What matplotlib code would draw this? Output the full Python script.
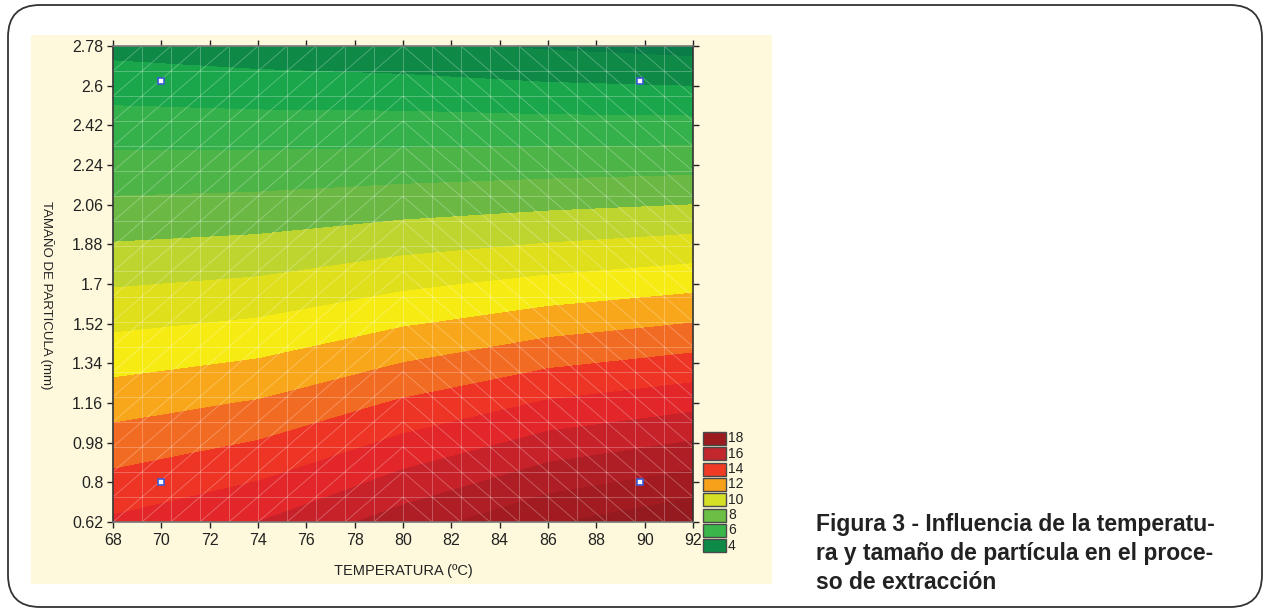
import numpy as np
import matplotlib
matplotlib.use('Agg')
from matplotlib import pyplot as plt
from matplotlib.patches import Rectangle, FancyBboxPatch
from matplotlib.transforms import IdentityTransform
from matplotlib.collections import LineCollection

# response surface (rows = particle size, cols = temperature)
temperatures = [68, 74, 80, 86, 92]
sizes = [0.62, 1.16, 1.70, 2.24, 2.78]
response = [
    [14.15, 15.00, 16.48, 17.90, 18.84],
    [11.56, 12.08, 13.13, 14.10, 14.68],
    [8.91, 9.17, 9.79, 10.28, 10.69],
    [6.32, 6.36, 6.46, 6.56, 6.65],
    [3.67, 3.42, 3.23, 2.87, 2.64],
]

levels = list(range(2, 20))
band_colors = ['#0a7c48', '#0e8a46', '#1aa74b', '#35b14b', '#4db447', '#6bb944',
               '#bed530', '#dfe01b', '#f6ec14', '#f9a71a', '#f26b22', '#ee3424',
               '#e2262a', '#c7212a', '#b01e25', '#a11b21', '#941a1f']

legend_values = [18, 16, 14, 12, 10, 8, 6, 4]
legend_colors = ['#9b1b1f', '#c1272d', '#ef3b24', '#f7a11a', '#d4df26', '#6abf44',
                 '#3ab54a', '#0d8a45']

design_temp = [70, 70, 89.8, 89.8]
design_size = [0.80, 2.62, 0.80, 2.62]

x_ticks = list(range(68, 93, 2))
y_ticks = [0.62, 0.80, 0.98, 1.16, 1.34, 1.52, 1.70, 1.88, 2.06, 2.24, 2.42, 2.60, 2.78]

caption = ["Figura 3 - Influencia de la temperatu-",
           "ra y tamaño de partícula en el proce-",
           "so de extracción"]

W, H = 1268, 613
plt.rcParams['font.family'] = ['Liberation Sans', 'DejaVu Sans']


def px(x, y):
    # pixel position measured from the top-left corner -> display coords
    return x, H - y


fig = plt.figure(figsize=(W / 100, H / 100), dpi=100)

# outer rounded frame and cream panel
frame = FancyBboxPatch(px(8, 607), 1254, 602, boxstyle="round,pad=0,rounding_size=32",
                       transform=IdentityTransform(), fill=False, ec='#333333', lw=1.3)
fig.add_artist(frame)
panel = Rectangle(px(31, 584), 741, 549, transform=IdentityTransform(),
                  fc='#fef9dc', ec='none', zorder=0)
fig.add_artist(panel)

ax = fig.add_axes([113 / W, (H - 522) / H, 580 / W, 476 / H])
ax.set_zorder(2)
ax.contourf(temperatures, sizes, response, levels=levels, colors=band_colors,
            antialiased=False)

# light wireframe mesh
mx = np.linspace(68, 92, 21)
my = np.linspace(0.62, 2.78, 20)
segs = []
for x in mx:
    segs.append([(x, my[0]), (x, my[-1])])
for y in my:
    segs.append([(mx[0], y), (mx[-1], y)])
for i in range(len(mx) - 1):
    for j in range(len(my) - 1):
        if (mx[i] + mx[i + 1]) / 2 < 80:
            segs.append([(mx[i], my[j]), (mx[i + 1], my[j + 1])])
        else:
            segs.append([(mx[i], my[j + 1]), (mx[i + 1], my[j])])
ax.add_collection(LineCollection(segs, colors='white', linewidths=0.6, alpha=0.3))

ax.plot(design_temp, design_size, 's', ms=4, mfc='white', mec='#3b5bd6', mew=1.2,
        clip_on=False)

ax.set_xlim(68, 92)
ax.set_ylim(0.62, 2.78)
ax.set_xticks(x_ticks)
ax.set_xticklabels([f'{v:g}' for v in x_ticks])
ax.set_yticks(y_ticks)
ax.set_yticklabels([f'{v:g}' for v in y_ticks])
ax.tick_params(direction='out', length=4, width=1, labelsize=11.5, colors='#222222',
               top=True, right=True)
ax.tick_params(axis='x', pad=4)
ax.tick_params(axis='y', pad=3)
for s in ax.spines.values():
    s.set_color('#333333')
    s.set_linewidth(1.2)
ax.spines['top'].set_color('#777777')
ax.spines['bottom'].set_color('#777777')

fig.text(403 / W, (H - 571) / H, 'TEMPERATURA (ºC)', ha='center', va='center',
         fontsize=10.5, color='#222222')
fig.text(47 / W, (H - 295) / H, 'TAMAÑO DE PARTICULA (mm)', ha='center', va='center',
         rotation=270, fontsize=9.5, color='#222222')

# legend boxes
for k, (val, col) in enumerate(zip(legend_values, legend_colors)):
    top = 432 + k * 15.3
    fig.add_artist(Rectangle(px(703, top + 13), 23, 13, transform=IdentityTransform(),
                             fc=col, ec='#4a4a4a', lw=1.0, zorder=3))
    fig.text(728 / W, (H - top - 6.5) / H, str(val), ha='left', va='center',
             fontsize=10, color='#222222')

for k, line in enumerate(caption):
    fig.text(816 / W, (H - (531 + k * 29)) / H, line, ha='left', va='baseline',
             fontsize=16.5, fontweight='bold', color='#222222')

fig.savefig('out.png', dpi=100)
